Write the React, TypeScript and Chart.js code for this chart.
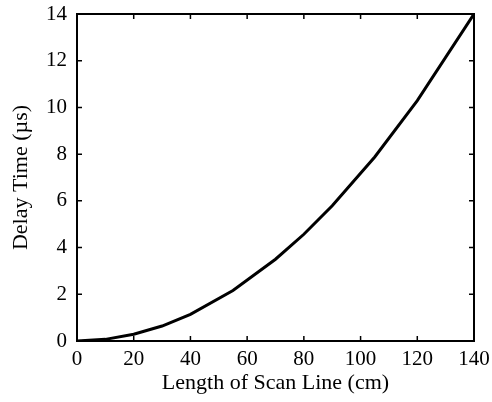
import React, { useEffect, useRef } from "react";
import { Chart, registerables } from "chart.js";

Chart.register(...registerables);

const xValues = [0, 10, 20, 30, 40, 55, 70, 80, 90, 105, 120, 140];
const delayValues = [0, 0.07, 0.29, 0.64, 1.14, 2.16, 3.5, 4.57, 5.79, 7.88, 10.29, 14];
const xTicks = [0, 20, 40, 60, 80, 100, 120, 140];
const yTicks = [0, 2, 4, 6, 8, 10, 12, 14];
const xTitle = "Length of Scan Line (cm)";
const yTitle = "Delay Time (\u00b5s)";

const FONT = "'Liberation Serif', 'Times New Roman', serif";

const frameTicks = {
  id: "frameTicks",
  afterDraw(chart: any) {
    const { ctx, chartArea: a, scales } = chart;
    const L = 5;
    ctx.save();
    ctx.strokeStyle = "#000";
    ctx.lineWidth = 2;
    ctx.strokeRect(a.left, a.top, a.right - a.left, a.bottom - a.top);
    ctx.lineWidth = 1.5;
    ctx.beginPath();
    xTicks.forEach((v) => {
      const px = scales.x.getPixelForValue(v);
      ctx.moveTo(px, a.bottom);
      ctx.lineTo(px, a.bottom - L);
      ctx.moveTo(px, a.top);
      ctx.lineTo(px, a.top + L);
    });
    yTicks.forEach((v) => {
      const py = scales.y.getPixelForValue(v);
      ctx.moveTo(a.left, py);
      ctx.lineTo(a.left + L, py);
      ctx.moveTo(a.right, py);
      ctx.lineTo(a.right - L, py);
    });
    ctx.stroke();
    ctx.restore();
  },
};

export default function App() {
  const ref = useRef<HTMLCanvasElement | null>(null);
  useEffect(() => {
    document.body.style.margin = "0";
    const chart = new Chart(ref.current as HTMLCanvasElement, {
      type: "line",
      data: {
        datasets: [
          {
            data: xValues.map((x, i) => ({ x, y: delayValues[i] })),
            borderColor: "#000",
            borderWidth: 3,
            pointRadius: 0,
            tension: 0,
            fill: false,
          },
        ],
      },
      options: {
        animation: false,
        responsive: false,
        layout: { padding: { top: 14, right: 18, left: 0, bottom: 0 } },
        plugins: { legend: { display: false }, tooltip: { enabled: false } },
        scales: {
          x: {
            type: "linear",
            min: 0,
            max: 140,
            afterFit: (s: any) => {
              s.height = 61;
              s.paddingLeft = 0;
              s.paddingRight = 0;
            },
            afterBuildTicks: (s: any) => {
              s.ticks = xTicks.map((v) => ({ value: v }));
            },
            grid: { display: false, drawTicks: false },
            border: { display: false },
            ticks: {
              color: "#000",
              padding: 6,
              maxRotation: 0,
              font: { family: FONT, size: 21 },
            },
            title: {
              display: true,
              text: xTitle,
              color: "#000",
              font: { family: FONT, size: 22 },
              padding: { top: 4, bottom: 6 },
            },
          },
          y: {
            type: "linear",
            min: 0,
            max: 14,
            afterFit: (s: any) => {
              s.width = 77;
              s.paddingTop = 0;
              s.paddingBottom = 0;
            },
            afterBuildTicks: (s: any) => {
              s.ticks = yTicks.map((v) => ({ value: v }));
            },
            grid: { display: false, drawTicks: false },
            border: { display: false },
            ticks: {
              color: "#000",
              padding: 10,
              font: { family: FONT, size: 21 },
            },
            title: {
              display: true,
              text: yTitle,
              color: "#000",
              font: { family: FONT, size: 22 },
              padding: { top: 8, bottom: 0 },
            },
          },
        },
      },
      plugins: [frameTicks],
    });
    return () => chart.destroy();
  }, []);
  return <canvas ref={ref} width={492} height={402} />;
}
